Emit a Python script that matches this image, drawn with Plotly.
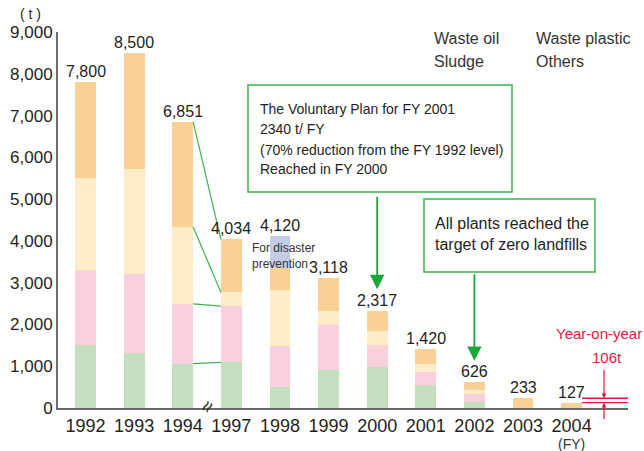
import plotly.graph_objects as go

# ---------------- data ----------------
years = ["1992", "1993", "1994", "1997", "1998", "1999", "2000", "2001", "2002", "2003", "2004"]
sludge = [1520, 1310, 1060, 1090, 500, 900, 990, 540, 155, 0, 0]          # green (bottom)
waste_oil = [1790, 1900, 1430, 1350, 990, 1080, 525, 310, 190, 0, 0]      # pink
waste_plastic = [2190, 2510, 1840, 330, 1340, 350, 335, 210, 75, 0, 0]    # light yellow
others = [2300, 2780, 2521, 1264, 510, 788, 467, 360, 206, 233, 127]     # orange
disaster = [0, 0, 0, 0, 780, 0, 0, 0, 0, 0, 0]                            # blue, "For disaster prevention"
totals = [7800, 8500, 6851, 4034, 4120, 3118, 2317, 1420, 626, 233, 127]
y_ticks = [0, 1000, 2000, 3000, 4000, 5000, 6000, 7000, 8000, 9000]
legend_labels = [["Waste oil", "Sludge"], ["Waste plastic", "Others"]]
box1_lines = ["The Voluntary Plan for FY 2001", "2340 t/ FY",
              "(70% reduction from the FY 1992 level)", "Reached in FY 2000"]
box2_lines = ["All plants reached the", "target of zero landfills"]

# ---------------- style ----------------
C_GREEN = "#C4DFC0"
C_PINK = "#F8D1DD"
C_LY = "#FEEBC8"
C_OR = "#F9D096"
C_BLUE = "#C4CDE8"
LINE_GREEN = "#3DB54F"
ARROW_GREEN = "#1BA83B"
RED = "#E5173F"
TXT = "#231F20"
SANS = "Liberation Sans, Arial, sans-serif"

W, H = 644, 451
L, R, T, B = 58, 16, 32, 43
PW, PH = W - L - R, H - T - B
BW = 0.43
XMIN, XMAX = -0.566, 11.16
xpos = list(range(len(years)))


def px(x):
    return (x - L) / PW


def py(y):
    return (H - B - y) / PH


fig = go.Figure()
for vals, col, name in [(sludge, C_GREEN, "Sludge"), (waste_oil, C_PINK, "Waste oil"),
                        (waste_plastic, C_LY, "Waste plastic"), (others, C_OR, "Others"),
                        (disaster, C_BLUE, "For disaster prevention")]:
    fig.add_trace(go.Bar(x=xpos, y=vals, width=BW, marker=dict(color=col, line=dict(width=0)),
                         name=name, showlegend=False, hoverinfo="y"))


# connector lines between 1994 and 1997 (cumulative boundaries)
def cum(i):
    a = sludge[i]
    b = a + waste_oil[i]
    c = b + waste_plastic[i]
    d = c + others[i]
    return [a, b, c, d]


c94, c97 = cum(2), cum(3)
for a, b in zip(c94, c97):
    fig.add_trace(go.Scatter(x=[2 + BW / 2, 3 - BW / 2], y=[a, b], mode="lines",
                             line=dict(color=LINE_GREEN, width=1.2), showlegend=False, hoverinfo="skip"))

# red year-on-year lines at 2003 and 2004 levels
for v in (totals[9], totals[10]):
    fig.add_trace(go.Scatter(x=[10 + BW / 2, XMAX], y=[v, v], mode="lines",
                             line=dict(color=RED, width=1.3), showlegend=False, hoverinfo="skip"))

ann = []
shapes = []


def label(x, y, text, size, color=TXT, xanchor="center", xref="paper", yref="paper", **kw):
    d = dict(x=x, y=y, xref=xref, yref=yref, text=text, showarrow=False, xanchor=xanchor,
             yanchor=kw.pop("yanchor", "middle"), font=dict(family=SANS, size=size, color=color))
    d.update(kw)
    ann.append(d)


# value labels
for i, t in enumerate(totals):
    label(i, t, f"{t:,}", 16, xref="x", yref="y", yanchor="bottom")

# unit
label(px(30), py(14), "( t )", 14)
# legend texts
for col_i, lx in enumerate((432, 534)):
    for row_i, ly in enumerate((38, 62)):
        label(px(lx), py(ly), legend_labels[col_i][row_i], 16, color="#333333", xanchor="left")

# box 1
shapes.append(dict(type="rect", xref="paper", yref="paper", x0=px(248), x1=px(512), y0=py(192), y1=py(85),
                   line=dict(color=LINE_GREEN, width=1.5), fillcolor="white", layer="above"))
for txt, ly in zip(box1_lines, (109, 129, 150, 169)):
    label(px(258), py(ly), txt, 14, xanchor="left")
# box 2
shapes.append(dict(type="rect", xref="paper", yref="paper", x0=px(424), x1=px(595), y0=py(272), y1=py(199),
                   line=dict(color=LINE_GREEN, width=1.5), fillcolor="white", layer="above"))
for txt, ly in zip(box2_lines, (223, 245)):
    label(px(433), py(ly), txt, 16, xanchor="left")
# arrows
ann.append(dict(x=6, y=totals[6], xref="x", yref="y", yshift=22, text="", showarrow=True,
                ax=0, ay=-94, arrowhead=2, arrowsize=1.6, arrowwidth=1.8, arrowcolor=ARROW_GREEN))
ann.append(dict(x=8, y=totals[8], xref="x", yref="y", yshift=21, text="", showarrow=True,
                ax=0, ay=-88, arrowhead=2, arrowsize=1.6, arrowwidth=1.8, arrowcolor=ARROW_GREEN))
# disaster text
label(px(250), py(248), "For disaster", 12, color="#333333", xanchor="left")
label(px(250), py(264), "prevention", 12, color="#333333", xanchor="left")
# red annotation
label(px(644), py(333), "Year-on-year", 15, color=RED, xanchor="right")
label(px(607), py(357), "106t", 15, color=RED)
ann.append(dict(x=px(604), y=totals[9], xref="paper", yref="y", text="", showarrow=True,
                ax=0, ay=-30, arrowhead=2, arrowsize=0.8, arrowwidth=1.2, arrowcolor=RED))
ann.append(dict(x=px(604), y=totals[10], xref="paper", yref="y", text="", showarrow=True,
                ax=0, ay=18, arrowhead=2, arrowsize=0.8, arrowwidth=1.2, arrowcolor=RED))
# FY
label(10, py(444), "(FY)", 14, color="#333333", xref="x")
# break mark
label(2.5, 0, "≈", 20, xref="x", yref="y", textangle=-60, yshift=1)

fig.update_layout(
    width=W, height=H, margin=dict(l=L, r=R, t=T, b=B, autoexpand=False),
    paper_bgcolor="white", plot_bgcolor="white", barmode="stack", bargap=0,
    showlegend=False, annotations=ann, shapes=shapes,
    xaxis=dict(range=[XMIN, XMAX], tickvals=xpos, ticktext=years, showgrid=False, zeroline=False,
               showline=True, linecolor="#6b6b6b", linewidth=2, ticks="", automargin=False,
               tickfont=dict(family=SANS, size=18, color=TXT)),
    yaxis=dict(range=[0, 9000], tickvals=y_ticks, tickformat=",", showgrid=False, zeroline=False,
               showline=True, linecolor="#6b6b6b", linewidth=2, ticks="", automargin=False,
               tickfont=dict(family=SANS, size=17, color=TXT)),
)
fig.write_html("out.html", config={"displayModeBar": False},
               post_script="document.body.style.margin='0';document.body.style.overflow='hidden';")
